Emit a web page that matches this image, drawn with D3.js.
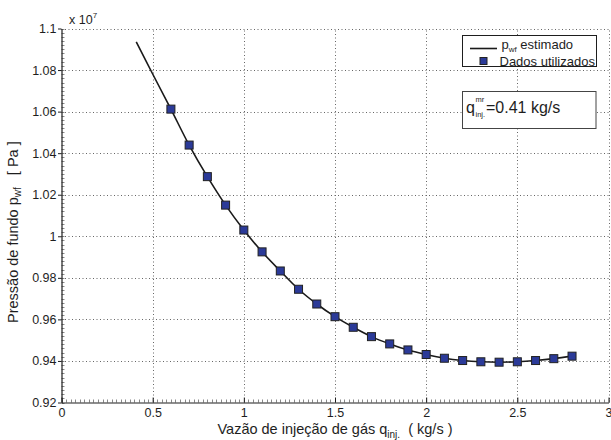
<!DOCTYPE html>
<html>
<head>
<meta charset="utf-8">
<script src="https://cdn.jsdelivr.net/npm/d3@7/dist/d3.min.js"></script>
<style>
  html, body { margin: 0; padding: 0; background: #fff; }
  svg { display: block; font-family: "Liberation Sans", Arial, Helvetica, sans-serif; }
</style>
</head>
<body>
<svg id="chart" width="611" height="440"></svg>
<script>
// Gas injection rate (kg/s) used in the fit
const injRate = [0.6, 0.7, 0.8, 0.9, 1.0, 1.1, 1.2, 1.3, 1.4, 1.5, 1.6, 1.7,
                 1.8, 1.9, 2.0, 2.1, 2.2, 2.3, 2.4, 2.5, 2.6, 2.7, 2.8];
// Bottom-hole pressure samples (units of 1e7 Pa)
const pressure = [1.0612, 1.0439, 1.0287, 1.0150, 1.0030, 0.9925, 0.9833, 0.9745,
                  0.9674, 0.9613, 0.9562, 0.9517, 0.9482, 0.9453, 0.9431, 0.9413,
                  0.9402, 0.9396, 0.9394, 0.9396, 0.9402, 0.9411, 0.9423];
// Estimated curve, starting at the minimum injection rate 0.41 kg/s
const curveX = [0.41, 0.5].concat(injRate);
const curveY = [1.0936, 1.0781].concat(pressure);

const xTicks = [0, 0.5, 1, 1.5, 2, 2.5, 3];
const yTicks = [0.92, 0.94, 0.96, 0.98, 1.0, 1.02, 1.04, 1.06, 1.08, 1.1];

const svg = d3.select("#chart");
const margin = { left: 61.5, right: 2.5, top: 28.5, bottom: 37.5 };
const W = 611, H = 440;

const x = d3.scaleLinear().domain([0, 3]).range([margin.left, W - margin.right]);
const y = d3.scaleLinear().domain([0.92, 1.1]).range([H - margin.bottom, margin.top]);

const fmt = v => String(+v.toFixed(2));
const ink = "#1e1e1e";
const FONT = "Liberation Sans, Arial, sans-serif";

// Dotted grid
const grid = svg.append("g").attr("stroke", "#666").attr("stroke-width", 1)
  .attr("stroke-dasharray", "1,2.5");
grid.selectAll("line.gx").data(xTicks.slice(1)).join("line")
  .attr("x1", d => Math.round(x(d)) + 0.5).attr("x2", d => Math.round(x(d)) + 0.5)
  .attr("y1", y(0.92)).attr("y2", y(1.1));
grid.selectAll("line.gy").data(yTicks.slice(1)).join("line")
  .attr("y1", d => Math.round(y(d)) + 0.5).attr("y2", d => Math.round(y(d)) + 0.5)
  .attr("x1", x(0)).attr("x2", x(3));

// Minor ticks
const minor = svg.append("g").attr("stroke", "#888").attr("stroke-width", 1);
minor.selectAll("line.my").data(d3.range(0.92, 1.1001, 0.002)).join("line")
  .attr("x1", x(0)).attr("x2", x(0) + 3)
  .attr("y1", d => Math.round(y(d)) + 0.5).attr("y2", d => Math.round(y(d)) + 0.5);
minor.selectAll("line.mx").data(d3.range(0, 3.0001, 0.025)).join("line")
  .attr("x1", d => Math.round(x(d)) + 0.5).attr("x2", d => Math.round(x(d)) + 0.5)
  .attr("y1", y(0.92)).attr("y2", y(0.92) - 3);

// Axes
const xAxis = svg.append("g").attr("transform", `translate(0,${y(0.92)})`)
  .call(d3.axisBottom(x).tickValues(xTicks).tickFormat(fmt).tickSizeInner(-5).tickSizeOuter(0).tickPadding(6));
const yAxis = svg.append("g").attr("transform", `translate(${x(0)},0)`)
  .call(d3.axisLeft(y).tickValues(yTicks).tickFormat(fmt).tickSizeInner(3.5).tickSizeOuter(0).tickPadding(1.5));
[xAxis, yAxis].forEach(a => {
  a.attr("font-family", FONT);
  a.select(".domain").attr("stroke", ink).attr("stroke-width", 1.2);
  a.selectAll(".tick line").attr("stroke", ink);
  a.selectAll(".tick text").attr("fill", ink).attr("font-size", 12.5);
});

// Exponent label
const ex = svg.append("text").attr("x", x(0) + 7.5).attr("y", 24).attr("fill", ink).attr("font-size", 12.5);
ex.append("tspan").text("x 10");
ex.append("tspan").attr("dy", -6).attr("font-size", 8).text("7");

// Estimated curve
const line = d3.line().x((d, i) => x(curveX[i])).y(d => y(d)).curve(d3.curveCatmullRom.alpha(0.5));
svg.append("path").datum(curveY).attr("d", line)
  .attr("fill", "none").attr("stroke", "#1a1a1a").attr("stroke-width", 1.6);

// Data markers
const ms = 8;
svg.append("g").selectAll("rect").data(pressure).join("rect")
  .attr("x", (d, i) => x(injRate[i]) - ms / 2).attr("y", d => y(d) - ms / 2)
  .attr("width", ms).attr("height", ms)
  .attr("fill", "#2b3a98").attr("stroke", "#222").attr("stroke-width", 1);

// Legend
const lg = svg.append("g");
lg.append("rect").attr("x", 462.5).attr("y", 35.5).attr("width", 134).attr("height", 31)
  .attr("fill", "#fff").attr("stroke", ink).attr("stroke-width", 1);
lg.append("line").attr("x1", 470).attr("x2", 497).attr("y1", 48.5).attr("y2", 48.5)
  .attr("stroke", "#1a1a1a").attr("stroke-width", 1.6);
const l1 = lg.append("text").attr("x", 501.5).attr("y", 49).attr("font-size", 13).attr("fill", ink);
l1.append("tspan").text("p");
l1.append("tspan").attr("dy", 2.5).attr("font-size", 8).text("wf");
l1.append("tspan").attr("dy", -2.5).text(" estimado");
lg.append("rect").attr("x", 480).attr("y", 57.5).attr("width", 7).attr("height", 7)
  .attr("fill", "#2b3a98").attr("stroke", "#222");
lg.append("text").attr("x", 499.5).attr("y", 65.5).attr("font-size", 13).attr("fill", ink)
  .text("Dados utilizados");

// Minimum injection annotation
const an = svg.append("g");
an.append("rect").attr("x", 462.5).attr("y", 91.5).attr("width", 133.5).attr("height", 37)
  .attr("fill", "#fff").attr("stroke", "#444").attr("stroke-width", 1);
an.append("text").attr("x", 466).attr("y", 112.5).attr("font-size", 16).attr("fill", ink).text("q");
an.append("text").attr("x", 475.5).attr("y", 102).attr("font-size", 7.5).attr("fill", ink).text("mr");
an.append("text").attr("x", 475.5).attr("y", 116.5).attr("font-size", 7.5).attr("fill", ink).text("inj.");
an.append("text").attr("x", 486).attr("y", 112.5).attr("font-size", 16).attr("fill", ink)
  .text("=0.41 kg/s");

// Axis titles
const xt = svg.append("text").attr("x", x(1.5)).attr("y", 434).attr("text-anchor", "middle")
  .attr("font-size", 14.5).attr("fill", ink);
xt.append("tspan").text("Vazão de injeção de gás q");
xt.append("tspan").attr("dy", 3.5).attr("font-size", 10).text("inj.");
xt.append("tspan").attr("dy", -3.5).text("\u00a0 ( kg/s )");

const yt = svg.append("text").attr("transform", "translate(17.5,323) rotate(-90)")
  .attr("text-anchor", "start").attr("font-size", 14.5).attr("fill", ink);
yt.append("tspan").text("Pressão de fundo p");
yt.append("tspan").attr("dy", 3.5).attr("font-size", 10).text("wf");
yt.append("tspan").attr("dy", -3.5).text("\u00a0\u00a0\u00a0[ Pa ]");
</script>
</body>
</html>
